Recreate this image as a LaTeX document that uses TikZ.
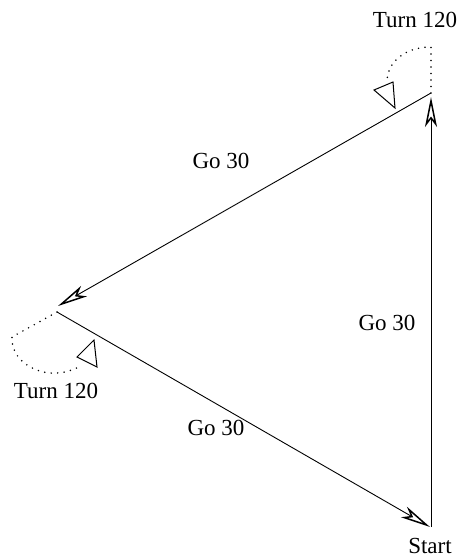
\documentclass[tikz,border=0pt]{standalone}
\usepackage{fontspec}
\setmainfont{Liberation Serif}
\usetikzlibrary{arrows.meta}
\begin{document}
\begin{tikzpicture}[x=1pt,y=-1pt,
  lbl/.style={inner sep=0pt,anchor=base,font=\fontsize{23}{27}\selectfont},
  edge/.style={line width=0.9pt,-{Stealth[open,length=30pt,width=12pt,inset=8pt,line width=1.5pt]}},
  turnpath/.style={line width=1.7pt,line cap=round,dash pattern=on 0pt off 6.5pt},
  turnhead/.style={line width=1pt,line join=miter}]
\useasboundingbox (0,0) rectangle (462,558);
% vertices
\coordinate (S) at (431,527);
\coordinate (T) at (431,93);
\coordinate (Ttip) at (431,97);
\coordinate (L) at (57,312);
\coordinate (Ltip) at (58,306);
\coordinate (Stip) at (430,527);
% sides
\draw[edge] (S) -- (Ttip);
\draw[edge] (T) -- (Ltip);
\draw[edge] (L) -- (Stip);
% top turn
\coordinate (Ttop) at (431,47);
\coordinate (Tend) at (387,82);
\draw[turnpath] (T) -- (Ttop) .. controls (405,47) and (387,62) .. (Tend);
\coordinate (ta) at (374,90);
\coordinate (tb) at (395,108);
\coordinate (tc) at (393,82);
\draw[turnhead] (ta) -- (tb) -- (tc) -- cycle;
% left turn
\coordinate (Lout) at (12,337);
\coordinate (Lend) at (82,365);
\draw[turnpath] (L) -- (Lout) .. controls (10,365) and (50,385) .. (Lend);
\coordinate (la) at (77,357);
\coordinate (lb) at (94,340);
\coordinate (lc) at (97,367);
\draw[turnhead] (la) -- (lb) -- (lc) -- cycle;
% labels
\node[lbl] (turn1) at (415,27) {Turn 120};
\node[lbl] (turn2) at (56,398) {Turn 120};
\node[lbl] (start) at (430,553) {Start};
\node[lbl] (go1) at (221,168) {Go 30};
\node[lbl] (go2) at (387,330) {Go 30};
\node[lbl] (go3) at (216,435) {Go 30};
\end{tikzpicture}
\end{document}
